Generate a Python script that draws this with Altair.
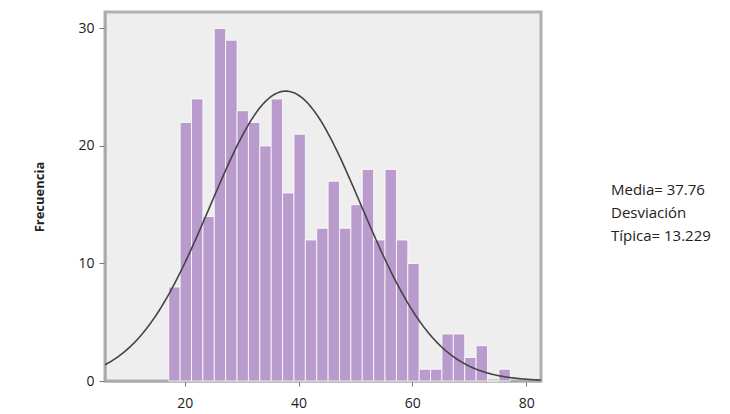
import altair as alt
import pandas as pd

# Histogram bins (width 2) and counts
bin_lo = [17.2, 19.2, 21.2, 23.2, 25.2, 27.2, 29.2, 31.2, 33.2, 35.2,
          37.2, 39.2, 41.2, 43.2, 45.2, 47.2, 49.2, 51.2, 53.2, 55.2,
          57.2, 59.2, 61.2, 63.2, 65.2, 67.2, 69.2, 71.2, 73.2, 75.2]
counts = [8, 22, 24, 14, 30, 29, 23, 22, 20, 24,
          16, 21, 12, 13, 17, 13, 15, 18, 12, 18,
          12, 10, 1, 1, 4, 4, 2, 3, 0, 1]
bin_width = 2
mean = 37.76
std = 13.229
n_total = sum(counts)

x_ticks = [20, 40, 60, 80]
y_ticks = [0, 10, 20, 30]
stats_lines = ["Media= 37.76", "Desviación", "Típica= 13.229"]

df = pd.DataFrame({
    "lo": bin_lo,
    "hi": [b + bin_width for b in bin_lo],
    "count": counts,
})

FONT = "Open Sans"
xscale = alt.Scale(domain=[6, 82.6], nice=False, zero=False)
yscale = alt.Scale(domain=[0, 31.4], nice=False)

bars = alt.Chart(df).mark_bar(
    color="#b99bcd", stroke="#ffffff", strokeWidth=1, strokeOpacity=0.8
).encode(
    x=alt.X("lo:Q", scale=xscale, axis=alt.Axis(
        values=x_ticks, title=None, grid=False, labelFontSize=14,
        labelPadding=10, tickSize=5, tickColor="#777777",
        domainColor="#a8a8a8", domainWidth=2, labelColor="#222222",
        labelFont=FONT)),
    x2="hi:Q",
    y=alt.Y("count:Q", scale=yscale, axis=alt.Axis(
        values=y_ticks, title="Frecuencia", grid=False, labelFontSize=14,
        labelPadding=5, tickSize=6, tickColor="#777777",
        domainColor="#a8a8a8", domainWidth=2, labelColor="#222222",
        labelFont=FONT, titleFont=FONT, titleFontSize=13,
        titleFontWeight="bold", titleColor="#222222", titlePadding=31)),
    y2=alt.datum(0),
)

curve = alt.Chart(alt.sequence(6, 82.7, 0.2, as_="x")).transform_calculate(
    y=f"{n_total}*{bin_width}*exp(-pow(datum.x-{mean},2)/(2*{std}*{std}))/({std}*sqrt(2*PI))"
).mark_line(color="#444444", strokeWidth=1.6, clip=True).encode(
    x=alt.X("x:Q", scale=xscale),
    y=alt.Y("y:Q", scale=yscale),
)

stats = alt.Chart(pd.DataFrame({"a": [0]})).mark_text(
    text=stats_lines, lineHeight=23, align="left", baseline="middle",
    fontSize=15, font=FONT, color="#222222"
).encode(
    x=alt.value(506),
    y=alt.value(178),
)

chart = alt.layer(bars, curve, stats).properties(
    width=436, height=369,
    autosize=alt.AutoSizeParams(type="none"),
    padding={"left": 97, "top": 4, "right": 181, "bottom": 33},
).configure_view(
    stroke="#b0b0b0", strokeWidth=3, fill="#eeeeee"
)

chart.save("out.html", embed_options={"renderer": "svg", "actions": False})
